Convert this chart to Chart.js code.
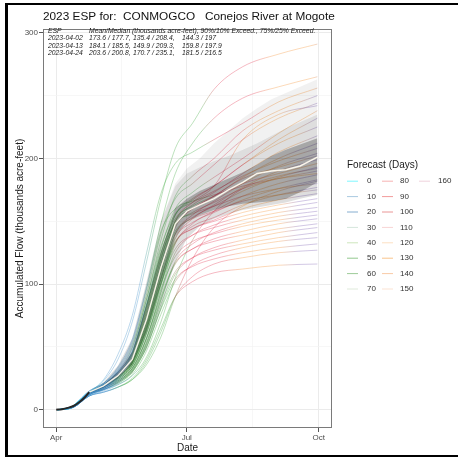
<!DOCTYPE html>
<html>
<head>
<meta charset="utf-8">
<script src="https://cdn.jsdelivr.net/npm/chart.js@4.4.1/dist/chart.umd.min.js"></script>
<style>
  html, body { margin: 0; padding: 0; background: #fff; overflow: hidden; }
  #wrap { position: relative; width: 458px; height: 458px; overflow: hidden; }
  #chart { position: absolute; left: 0; top: 0; }
  #frame { position: absolute; left: 5px; top: 3px; width: 470px; height: 450px;
           border-top: 2px solid #000; border-left: 3px solid #000; border-bottom: 2px solid #000; }
</style>
</head>
<body>
<div id="wrap">
  <canvas id="chart" width="458" height="458"></canvas>
  <div id="frame"></div>
</div>
<script>
// ---- data ----
const chartTitle = '2023 ESP for:  CONMOGCO   Conejos River at Mogote';
const espRuns = ['2023-04-02', '2023-04-13', '2023-04-24'];
const runIssueDay = [1, 12, 23];            // days after Apr 1
const statsMeanMedian = ['173.6 / 177.7,', '184.1 / 185.5,', '203.6 / 200.8,'];
const stats90_10 = ['135.4 / 208.4,', '149.9 / 209.3,', '170.7 / 235.1,'];
const stats75_25 = ['144.3 / 197', '159.8 / 197.9', '181.5 / 216.5'];

const xTickDays = [0, 91, 183];
const xTickLabels = ['Apr', 'Jul', 'Oct'];
const xGridDays = [0, 45.5, 91, 137, 183];
const yGridValues = [0, 50, 100, 150, 200, 250, 300];

const observedDays = [0, 4, 8, 12, 16, 20, 23];
const observedFlow = [0, 0.5, 1.5, 3, 6, 10, 14];

const bandDays = [23, 33, 43, 53, 63, 73, 83, 91, 100, 110, 120, 130, 140, 150, 160, 170, 182];
const p10 = [13, 16, 21, 29, 48, 80, 118, 136, 146, 152, 156, 159, 161, 163, 165, 168, 171];
const p25 = [14, 18, 25, 36, 62, 100, 138, 150, 155, 159, 162, 164, 165, 166, 168, 173, 181];
const p50 = [14, 19, 27, 40, 72, 113, 148, 158, 163, 168, 175, 181, 188, 190, 191, 194, 201];
const p75 = [14, 20, 30, 46, 84, 126, 160, 168, 174, 179, 184, 189, 195, 202, 207, 211, 216];
const p90 = [15, 22, 35, 57, 102, 150, 178, 188, 193, 198, 202, 207, 212, 218, 224, 229, 235];
const pMax = [15, 22, 35, 57, 102, 150, 180, 192, 200, 212, 222, 232, 240, 247, 252, 257, 263];

const traceDays = [1, 12, 23, 33, 43, 53, 63, 73, 83, 95, 110, 130, 155, 182];
const ensembleTraces = [
  [null, null, 14, 23, 40, 70, 118, 168, 208, 228, 255, 273, 283, 291],
  [null, null, 14, 21, 34, 56, 98, 148, 188, 212, 232, 248, 257, 265],
  [null, 3, 14, 20, 31, 50, 88, 135, 170, 186, 200, 222, 238, 250],
  [null, 3, 15, 21, 32, 52, 92, 140, 168, 180, 195, 215, 232, 244],
  [null, null, 14, 20, 30, 47, 84, 128, 160, 173, 185, 200, 220, 238],
  [null, 3, 13, 19, 28, 44, 78, 120, 155, 168, 178, 195, 215, 232],
  [null, null, 14, 24, 44, 75, 125, 172, 196, 205, 215, 228, 245, 256],
  [0, 3, 13, 18, 26, 39, 70, 110, 150, 165, 178, 215, 235, 242],
  [null, 3, 14, 20, 29, 45, 82, 124, 155, 167, 178, 195, 212, 225],
  [null, 3, 14, 19, 27, 41, 74, 116, 150, 163, 173, 188, 205, 218],
  [0, 3, 13, 18, 26, 39, 70, 110, 145, 160, 170, 185, 200, 212],
  [null, 3, 15, 21, 31, 49, 88, 130, 156, 165, 174, 186, 198, 208],
  [0, 3, 13, 18, 25, 37, 65, 104, 140, 155, 166, 180, 194, 204],
  [null, 3, 14, 20, 29, 44, 80, 120, 150, 160, 170, 184, 193, 202],
  [0, 2, 12, 17, 24, 35, 61, 99, 136, 152, 163, 177, 190, 199],
  [null, null, 14, 20, 30, 46, 84, 125, 152, 162, 170, 180, 188, 196],
  [0, 3, 13, 18, 26, 38, 68, 107, 140, 153, 162, 174, 185, 193],
  [null, 3, 14, 19, 28, 42, 76, 117, 147, 157, 165, 176, 184, 190],
  [0, 2, 12, 17, 23, 33, 57, 94, 132, 148, 158, 170, 180, 187],
  [null, null, 14, 21, 33, 54, 96, 142, 160, 166, 171, 178, 184, 188],
  [0, 3, 13, 18, 25, 37, 66, 104, 137, 149, 157, 167, 176, 183],
  [null, 3, 14, 20, 30, 46, 83, 122, 148, 156, 162, 170, 176, 180],
  [0, 2, 12, 17, 24, 35, 62, 100, 133, 146, 153, 163, 171, 177],
  [null, 3, 14, 19, 27, 40, 72, 112, 142, 152, 158, 166, 171, 175],
  [0, 3, 13, 18, 25, 36, 64, 101, 133, 144, 151, 160, 167, 172],
  [0, 3, 13, 18, 26, 38, 67, 105, 134, 144, 150, 157, 163, 168],
  [0, 2, 12, 17, 23, 33, 57, 93, 125, 139, 147, 154, 160, 165],
  [0, 3, 13, 18, 25, 37, 64, 100, 128, 139, 145, 151, 157, 161],
  [0, 2, 12, 16, 22, 31, 53, 87, 118, 132, 141, 148, 154, 158],
  [0, 3, 13, 18, 24, 35, 61, 96, 122, 134, 140, 146, 151, 155],
  [0, 2, 12, 16, 22, 32, 54, 88, 116, 128, 136, 142, 148, 152],
  [0, 2, 12, 17, 23, 33, 57, 90, 117, 128, 134, 139, 144, 148],
  [0, 2, 11, 16, 21, 30, 50, 81, 108, 121, 129, 135, 141, 145],
  [0, 2, 12, 16, 22, 31, 52, 84, 110, 121, 127, 132, 137, 141],
  [0, 2, 11, 15, 20, 28, 47, 76, 102, 115, 123, 129, 134, 137],
  [0, 2, 12, 16, 21, 30, 50, 80, 104, 114, 120, 125, 129, 132],
  [0, 2, 11, 14, 18, 24, 38, 62, 90, 106, 116, 121, 125, 127],
  [0, 2, 11, 14, 18, 25, 40, 65, 90, 102, 109, 112, 115, 116],
  [null, 3, 13, 16, 20, 27, 42, 70, 105, 135, 158, 176, 186, 192],
  [0, 2, 11, 14, 18, 24, 36, 58, 90, 120, 145, 162, 174, 182]
];
const traceRun = [2, 2, 1, 1, 2, 1, 2, 0, 1, 1, 0, 1, 0, 1, 0, 2, 0, 1, 0, 2,
                  0, 1, 0, 1, 0, 0, 0, 0, 0, 0, 0, 0, 0, 0, 0, 0, 0, 0, 1, 0];

const legendDays = [0, 10, 20, 30, 40, 50, 60, 70, 80, 90, 100, 110, 120, 130, 140, 150, 160];

// ---- styles ----
const FONT = '"Liberation Sans", Arial, sans-serif';
const X_MIN = -9.2, X_MAX = 192.2;
const legendColours = ['#7ff7ff', '#a9c9e1', '#86aed0', '#d5e6dc', '#cde6bd', '#93c98f', '#9dcc99', '#dfeadb',
                       '#f6b3b3', '#f29b9b', '#ea9696', '#f8d4d4', '#fde0c2', '#f9c48c', '#f9cba6', '#fbe3d3', '#efd3dc'];
const colourStops = [[0, '51,204,238'], [12, '58,140,200'], [35, '58,140,200'], [48, '59,168,59'],
                     [78, '59,168,59'], [88, '226,48,76'], [115, '226,48,76'], [128, '245,144,48'],
                     [155, '245,144,48'], [168, '122,92,176']];
const TRACE_ALPHA = 0.4;

const gradientCache = {};
function runGradient(chart, run) {
  const area = chart.chartArea;
  if (!area) return 'rgba(0,0,0,0)';
  const key = run + ':' + area.left + ':' + area.right;
  if (gradientCache[key]) return gradientCache[key];
  const g = chart.ctx.createLinearGradient(area.left, 0, area.right, 0);
  colourStops.forEach(([f, rgb]) => {
    const t = (runIssueDay[run] + f - X_MIN) / (X_MAX - X_MIN);
    if (t >= 0 && t <= 1) g.addColorStop(t, `rgba(${rgb},${TRACE_ALPHA})`);
  });
  gradientCache[key] = g;
  return g;
}

const xy = (days, vals) => days.map((d, i) => ({ x: d, y: vals[i] })).filter(p => p.y !== null);

const bandBase = { borderWidth: 0, pointRadius: 0, tension: 0, order: 2 };
const datasets = [
  { ...bandBase, label: 'p10', data: xy(bandDays, p10), fill: false },
  { ...bandBase, label: 'p90', data: xy(bandDays, p90), fill: { target: 0 }, backgroundColor: 'rgba(0,0,0,0.13)' },
  { ...bandBase, label: 'p25', data: xy(bandDays, p25), fill: false },
  { ...bandBase, label: 'p75', data: xy(bandDays, p75), fill: { target: 2 }, backgroundColor: 'rgba(0,0,0,0.25)' },
  { ...bandBase, label: 'max', data: xy(bandDays, pMax), fill: { target: 1 }, backgroundColor: 'rgba(0,0,0,0.055)' },
  { label: 'median', data: xy(bandDays, p50), borderColor: 'rgba(255,250,238,0.95)', borderWidth: 1.4,
    pointRadius: 0, tension: 0, fill: false, order: 1 },
  { label: 'observed', data: xy(observedDays, observedFlow), borderColor: '#262626', borderWidth: 2,
    pointRadius: 0, cubicInterpolationMode: 'monotone', fill: false, order: 0 }
];
ensembleTraces.forEach((vals, i) => {
  const run = traceRun[i];
  datasets.push({
    label: 'trace ' + i, data: xy(traceDays, vals), fill: false, order: 3,
    borderColor: ctx => runGradient(ctx.chart, run), borderWidth: 0.85,
    pointRadius: 0, cubicInterpolationMode: 'monotone'
  });
});

// ---- overlay text, border, legend ----
const overlay = {
  id: 'overlay',
  afterDatasetsDraw(chart) {
    const { ctx, chartArea: a } = chart;
    ctx.save();
    ctx.strokeStyle = '#7a7a7a';
    ctx.lineWidth = 1;
    ctx.strokeRect(a.left + 0.5, a.top + 0.5, a.right - a.left - 1, a.bottom - a.top - 1);
    ctx.restore();
  },
  afterDraw(chart) {
    const { ctx, chartArea: a } = chart;
    ctx.save();
    ctx.fillStyle = '#111';
    ctx.textBaseline = 'alphabetic';
    ctx.textAlign = 'left';
    ctx.font = `11.8px ${FONT}`;
    ctx.fillText(chartTitle, 43, 19.5);

    // ESP stats box
    ctx.fillStyle = '#222';
    ctx.font = `italic 6.8px ${FONT}`;
    ctx.fillText('ESP', 48, 33.3);
    ctx.fillText('Mean/Median (thousands acre-feet), 90%/10% Exceed., 75%/25% Exceed.', 89, 33.3);
    espRuns.forEach((run, i) => {
      const y = 40.3 + i * 7.5;
      ctx.fillText(run, 48, y);
      ctx.fillText(statsMeanMedian[i], 89, y);
      ctx.fillText(stats90_10[i], 133, y);
      ctx.fillText(stats75_25[i], 182, y);
    });

    // axis titles
    ctx.fillStyle = '#1a1a1a';
    ctx.font = `10px ${FONT}`;
    ctx.textAlign = 'center';
    ctx.fillText('Date', (a.left + a.right) / 2, 451);
    ctx.save();
    ctx.translate(23, (a.top + a.bottom) / 2);
    ctx.rotate(-Math.PI / 2);
    ctx.fillText('Accumulated Flow (thousands acre-feet)', 0, 0);
    ctx.restore();

    // legend
    ctx.textAlign = 'left';
    ctx.fillStyle = '#1a1a1a';
    ctx.font = `10px ${FONT}`;
    ctx.fillText('Forecast (Days)', 347, 167.5);
    ctx.font = `8px ${FONT}`;
    ctx.textBaseline = 'middle';
    const keyX = [347, 382, 419], labX = [367, 400, 438];
    legendDays.forEach((d, i) => {
      const col = Math.floor(i / 8), row = i % 8;
      const y = 180.7 + row * 15.4;
      ctx.strokeStyle = legendColours[i];
      ctx.lineWidth = 1;
      ctx.beginPath();
      ctx.moveTo(keyX[col], y + 0.5);
      ctx.lineTo(keyX[col] + 11, y + 0.5);
      ctx.stroke();
      ctx.fillStyle = '#333';
      ctx.fillText(String(d), labX[col], y + 0.5);
    });
    ctx.restore();
  }
};

new Chart(document.getElementById('chart'), {
  type: 'line',
  data: { datasets },
  options: {
    responsive: false,
    animation: false,
    events: [],
    layout: { padding: { left: 0, right: 126, top: 29, bottom: 0 } },
    plugins: { legend: { display: false }, tooltip: { enabled: false } },
    scales: {
      x: {
        type: 'linear', min: X_MIN, max: X_MAX,
        afterBuildTicks: s => { s.ticks = xGridDays.map(v => ({ value: v })); },
        afterFit: s => { s.height = 30; },
        border: { display: false },
        grid: {
          color: c => (c.tick && xTickDays.includes(c.tick.value)) ? '#ebebeb' : '#f3f3f3',
          lineWidth: c => (c.tick && xTickDays.includes(c.tick.value)) ? 1 : 0.7,
          tickLength: 4, tickWidth: 1,
          tickColor: c => (c.tick && xTickDays.includes(c.tick.value)) ? '#555' : 'rgba(0,0,0,0)'
        },
        ticks: {
          autoSkip: false, maxRotation: 0, padding: 1, color: '#4d4d4d',
          font: { size: 8, family: FONT },
          callback: v => { const k = xTickDays.indexOf(v); return k >= 0 ? xTickLabels[k] : ''; }
        }
      },
      y: {
        type: 'linear', min: -14.5, max: 303,
        afterBuildTicks: s => { s.ticks = yGridValues.map(v => ({ value: v })); },
        afterFit: s => { s.width = 43; },
        border: { display: false },
        grid: {
          color: c => (c.tick && c.tick.value % 100 === 0) ? '#ebebeb' : '#f3f3f3',
          lineWidth: c => (c.tick && c.tick.value % 100 === 0) ? 1 : 0.7,
          tickLength: 4, tickWidth: 1,
          tickColor: c => (c.tick && c.tick.value % 100 === 0) ? '#555' : 'rgba(0,0,0,0)'
        },
        ticks: {
          padding: 1, color: '#4d4d4d', font: { size: 8, family: FONT },
          callback: v => (v % 100 === 0 ? String(v) : '')
        }
      }
    }
  },
  plugins: [overlay]
});
</script>
</body>
</html>
